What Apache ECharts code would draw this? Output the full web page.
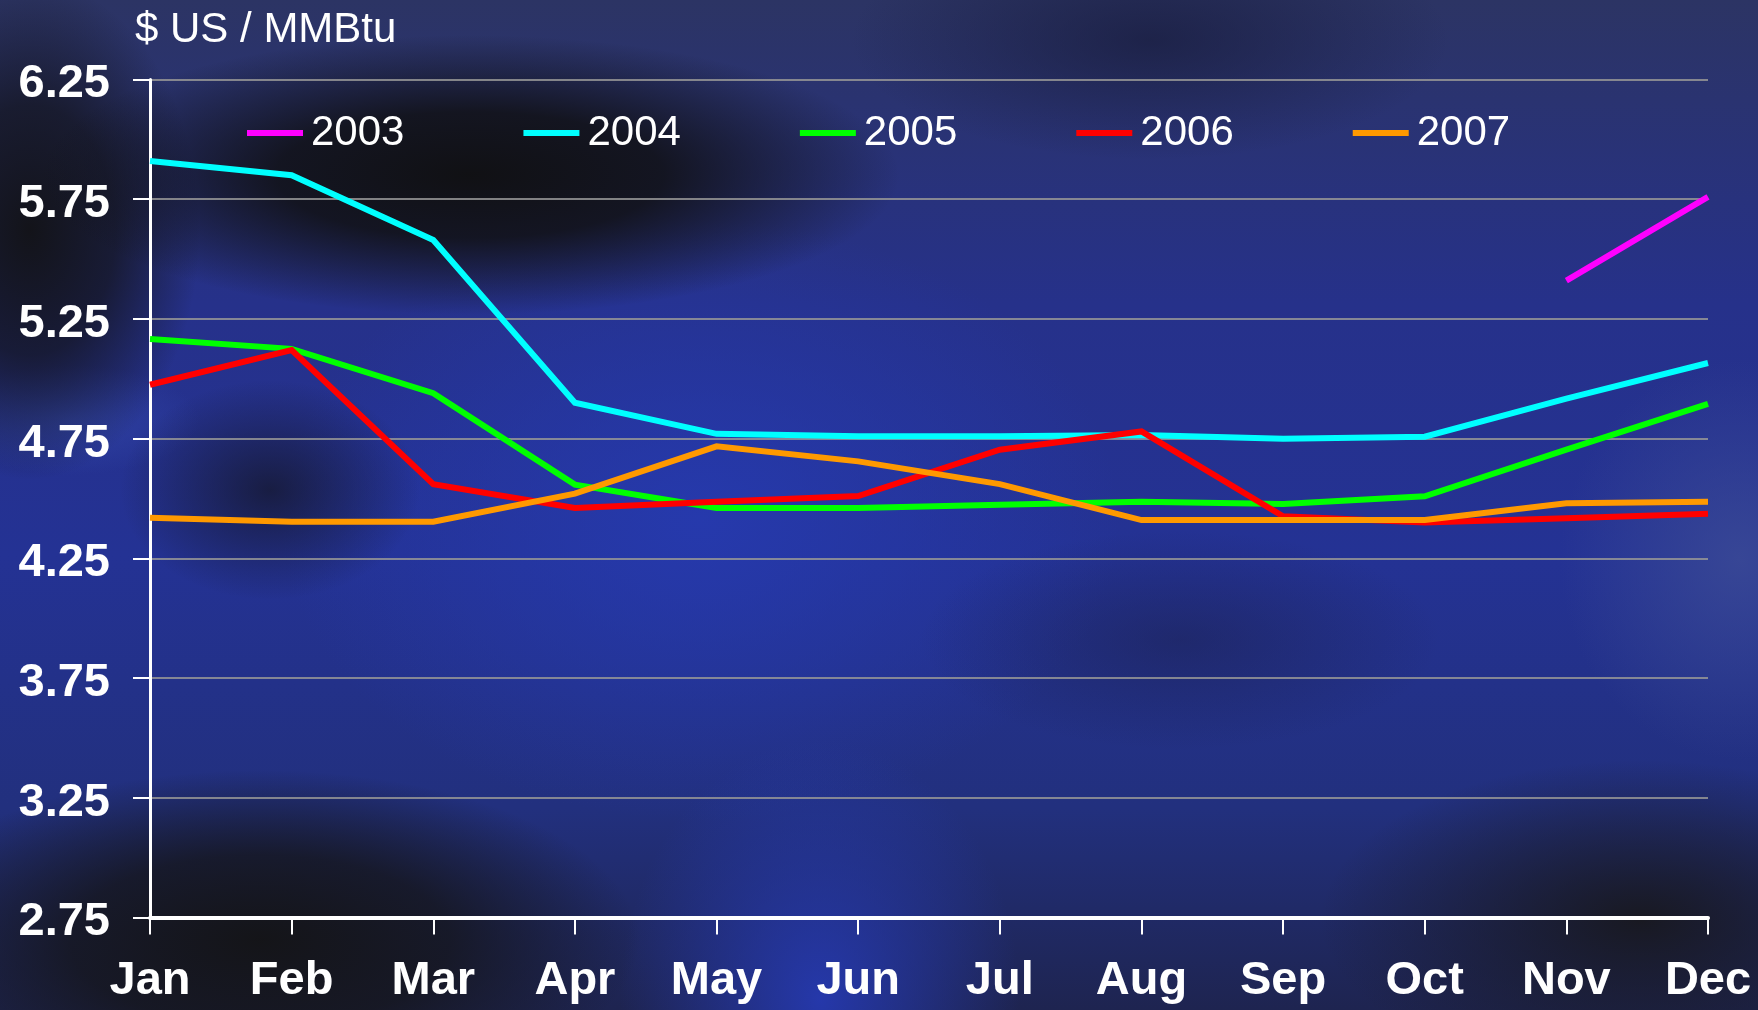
<!DOCTYPE html>
<html>
<head>
<meta charset="utf-8">
<title>Natural gas price by month, $ US / MMBtu</title>
<script src="https://cdn.jsdelivr.net/npm/echarts@6/dist/echarts.min.js"></script>
<style>
  html, body { margin: 0; padding: 0; width: 1758px; height: 1010px; overflow: hidden; }
  body {
    /* dark blue silk backdrop */
    background:
      radial-gradient(ellipse 430px 140px at 470px 175px, rgba(16,16,18,0.98) 0%, rgba(16,16,18,0.85) 45%, rgba(16,16,18,0) 100%),
      radial-gradient(ellipse 170px 250px at 30px 230px, rgba(18,18,20,0.95) 0%, rgba(18,18,20,0.7) 50%, rgba(18,18,20,0) 100%),
      radial-gradient(ellipse 150px 110px at 270px 490px, rgba(20,22,40,0.75) 0%, rgba(20,22,40,0) 100%),
      radial-gradient(ellipse 130px 55px at 70px 420px, rgba(50,70,170,0.8) 0%, rgba(50,70,170,0) 100%),
      radial-gradient(ellipse 380px 170px at 260px 940px, rgba(20,20,22,0.97) 0%, rgba(20,20,22,0.75) 50%, rgba(20,20,22,0) 100%),
      radial-gradient(ellipse 320px 160px at 1640px 920px, rgba(24,24,30,0.95) 0%, rgba(24,24,30,0) 100%),
      radial-gradient(ellipse 260px 110px at 1180px 640px, rgba(26,30,70,0.45) 0%, rgba(26,30,70,0) 100%),
      radial-gradient(ellipse 300px 120px at 1150px 40px, rgba(24,28,60,0.7) 0%, rgba(24,28,60,0) 100%),
      radial-gradient(ellipse 420px 300px at 700px 520px, rgba(38,58,175,0.9) 0%, rgba(38,58,175,0) 100%),
      radial-gradient(ellipse 200px 260px at 820px 1000px, rgba(38,58,180,0.9) 0%, rgba(38,58,180,0) 100%),
      radial-gradient(ellipse 180px 200px at 1740px 560px, rgba(60,75,150,0.8) 0%, rgba(60,75,150,0) 100%),
      linear-gradient(180deg, #2c3464 0%, #26318a 30%, #243294 55%, #22307e 80%, #1e2450 100%);
  }
  #chart { width: 1758px; height: 1010px; }
</style>
</head>
<body>
<div id="chart"></div>
<script>
// Monthly price, $ US / MMBtu
const months = ['Jan', 'Feb', 'Mar', 'Apr', 'May', 'Jun', 'Jul', 'Aug', 'Sep', 'Oct', 'Nov', 'Dec'];
const yTicks = ['2.75', '3.25', '3.75', '4.25', '4.75', '5.25', '5.75', '6.25'];

const y2003 = [null, null, null, null, null, null, null, null, null, null, 5.41, 5.76];
const y2004 = [5.91, 5.85, 5.58, 4.90, 4.77, 4.76, 4.76, 4.765, 4.75, 4.758, 4.917, 5.066];
const y2005 = [5.166, 5.125, 4.94, 4.558, 4.46, 4.46, 4.474, 4.486, 4.477, 4.509, 4.704, 4.895];
const y2006 = [4.975, 5.12, 4.56, 4.46, 4.486, 4.51, 4.704, 4.78, 4.426, 4.40, 4.417, 4.436];
const y2007 = [4.42, 4.403, 4.403, 4.52, 4.718, 4.655, 4.56, 4.41, 4.41, 4.41, 4.48, 4.486];

const seriesDefs = [
  { name: '2003', data: y2003, color: '#ff00ff' },
  { name: '2004', data: y2004, color: '#00ffff' },
  { name: '2005', data: y2005, color: '#00ff00' },
  { name: '2006', data: y2006, color: '#ff0000' },
  { name: '2007', data: y2007, color: '#ff9900' }
];

const chart = echarts.init(document.getElementById('chart'), null, { renderer: 'canvas' });

const font = '"Liberation Sans", Arial, sans-serif';

chart.setOption({
  backgroundColor: 'transparent',
  animation: false,
  textStyle: { fontFamily: font },
  title: {
    text: '$ US / MMBtu',
    left: 130,
    top: 4,
    textStyle: { color: '#ffffff', fontSize: 42, fontWeight: 'normal', fontFamily: font }
  },
  legend: {
    left: 242,
    top: 107,
    icon: 'rect',
    itemWidth: 56,
    itemHeight: 6,
    itemGap: 119,
    textStyle: { color: '#ffffff', fontSize: 42, fontFamily: font, padding: [0, 0, 0, 3] },
    data: seriesDefs.map(s => s.name)
  },
  grid: { left: 150, right: 50, top: 79.5, bottom: 92.5, containLabel: false },
  xAxis: {
    type: 'category',
    data: months,
    boundaryGap: false,
    axisLine: { lineStyle: { color: '#ffffff', width: 4 } },
    axisTick: { show: true, length: 17, lineStyle: { color: '#ffffff', width: 2 } },
    axisLabel: { color: '#ffffff', fontSize: 47, fontWeight: 'bold', fontFamily: font, margin: 40 },
    splitLine: { show: false }
  },
  yAxis: {
    type: 'value',
    min: Number(yTicks[0]),
    max: Number(yTicks[yTicks.length - 1]),
    interval: 0.5,
    axisLine: { show: true, lineStyle: { color: '#ffffff', width: 3 } },
    axisTick: { show: true, length: 17, lineStyle: { color: '#ffffff', width: 2 } },
    axisLabel: {
      color: '#ffffff', fontSize: 47, fontWeight: 'bold', fontFamily: font, margin: 40,
      formatter: v => '{v|' + v.toFixed(2) + '}',
      rich: {
        v: { color: '#ffffff', fontSize: 47, fontWeight: 'bold', fontFamily: font, padding: [10, 0, 0, 0] }
      }
    },
    splitLine: { show: true, lineStyle: { color: 'rgba(150,150,150,0.85)', width: 2 } }
  },
  series: seriesDefs.map(s => ({
    name: s.name,
    type: 'line',
    data: s.data,
    symbol: 'none',
    connectNulls: false,
    color: s.color,
    lineStyle: { color: s.color, width: 6, join: 'miter' },
    emphasis: { disabled: true }
  }))
});
</script>
</body>
</html>
